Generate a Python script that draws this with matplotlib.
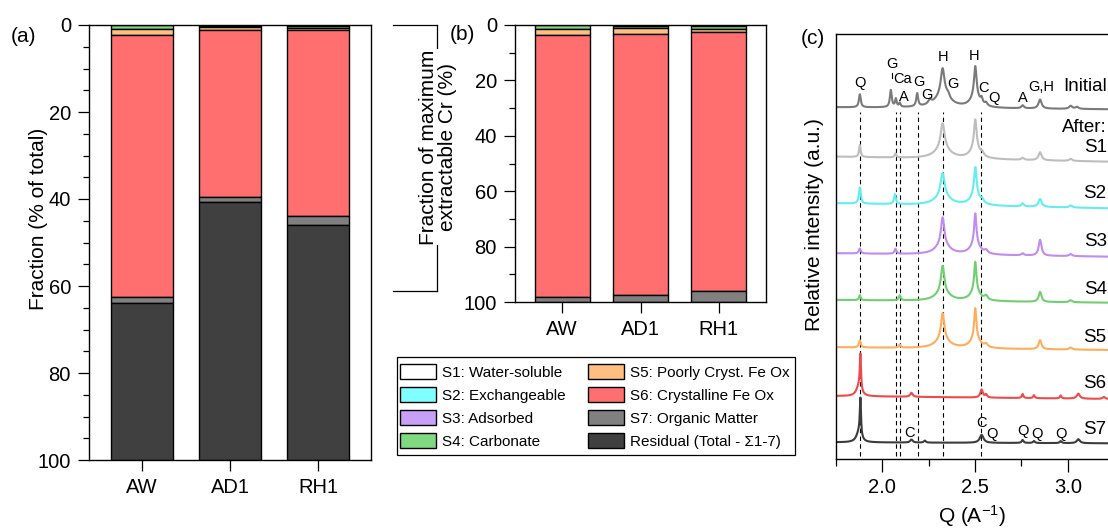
import numpy as np
import matplotlib
matplotlib.use("Agg")
import matplotlib.pyplot as plt
from matplotlib.patches import Patch, Rectangle
from matplotlib.lines import Line2D
from matplotlib.ticker import MultipleLocator, FixedLocator

plt.rcParams['font.family'] = ['Liberation Sans', 'DejaVu Sans']
plt.rcParams['mathtext.default'] = 'regular'

W, H = 1108, 529

# ---------------------------------------------------------------- data
samples = ["AW", "AD1", "RH1"]

fraction_labels = ["S1: Water-soluble", "S2: Exchangeable", "S3: Adsorbed",
                   "S4: Carbonate", "S5: Poorly Cryst. Fe Ox",
                   "S6: Crystalline Fe Ox", "S7: Organic Matter",
                   "Residual (Total - \u03a31-7)"]
fraction_colors = ["#ffffff", "#80ffff", "#c8a0f8", "#80d880",
                   "#ffbf80", "#ff6f6f", "#808080", "#404040"]

# (a) fraction of total Cr (%), listed per extraction step for AW, AD1, RH1
total_s1 = [0.00, 0.05, 0.05]
total_s2 = [0.00, 0.05, 0.05]
total_s3 = [0.10, 0.05, 0.10]
total_s4 = [0.80, 0.35, 0.40]
total_s5 = [1.50, 0.70, 0.60]
total_s6 = [60.2, 38.4, 42.6]
total_s7 = [1.30, 1.20, 2.10]
total_res = [36.1, 59.2, 54.1]

# (b) fraction of the maximum extractable Cr (%)
extr_s1 = [0.00, 0.10, 0.10]
extr_s2 = [0.00, 0.10, 0.10]
extr_s3 = [0.15, 0.10, 0.20]
extr_s4 = [1.20, 0.80, 0.90]
extr_s5 = [2.20, 2.00, 1.40]
extr_s6 = [94.75, 94.30, 93.30]
extr_s7 = [1.70, 2.60, 4.00]

# (c) diffraction patterns: (position Q, height, half width) of each reflection,
# with the baseline level at the left and right end of the Q range
pattern_names = ["Initial", "S1", "S2", "S3", "S4", "S5", "S6", "S7"]
pattern_colors = ["#7a7a7a", "#bdbdbd", "#62eef0", "#c08cf0",
                  "#70cf70", "#ffad5c", "#ee4a4a", "#3c3c3c"]
baseline_left = [351.7, 302.3, 255.7, 205.7, 159.0, 111.7, 63.0, 16.7]
baseline_right = [349.7, 297.3, 250.7, 202.3, 156.3, 109.0, 60.0, 15.7]

peaks_initial = [(1.880, 13, 0.006), (2.047, 17, 0.006), (2.074, 8, 0.005),
                 (2.095, 4, 0.005), (2.189, 13, 0.006), (2.257, 4, 0.010),
                 (2.326, 27, 0.012), (2.326, 12, 0.050), (2.355, 4, 0.010),
                 (2.502, 30, 0.008), (2.502, 11, 0.030), (2.536, 5, 0.006),
                 (2.560, 3, 0.008), (2.757, 3, 0.008), (2.851, 9, 0.010),
                 (3.016, 3, 0.010), (3.050, 2, 0.010)]
peaks_s1 = [(1.880, 12, 0.005), (2.072, 4, 0.005),
            (2.326, 24, 0.012), (2.326, 11, 0.045),
            (2.502, 28, 0.008), (2.502, 11, 0.030),
            (2.540, 3, 0.008), (2.757, 2, 0.008), (2.851, 8, 0.010),
            (3.016, 2, 0.010)]
peaks_s2 = [(1.880, 16, 0.006), (2.069, 10, 0.006),
            (2.326, 22, 0.012), (2.326, 10, 0.045),
            (2.502, 28, 0.008), (2.502, 10, 0.030),
            (2.540, 3, 0.008), (2.757, 3, 0.008), (2.851, 8, 0.010),
            (3.016, 2, 0.010)]
peaks_s3 = [(1.880, 5, 0.006), (2.072, 5, 0.006),
            (2.326, 26, 0.010), (2.326, 11, 0.040),
            (2.502, 30, 0.007), (2.502, 11, 0.030),
            (2.560, 3, 0.010), (2.757, 2, 0.008), (2.851, 16, 0.009),
            (3.016, 2, 0.010)]
peaks_s4 = [(1.880, 5, 0.005), (2.095, 5, 0.006),
            (2.326, 25, 0.010), (2.326, 10, 0.040),
            (2.502, 29, 0.007), (2.502, 10, 0.030),
            (2.560, 4, 0.010), (2.851, 10, 0.009), (3.016, 2, 0.010)]
peaks_s5 = [(1.880, 7, 0.006), (2.095, 3, 0.006),
            (2.326, 25, 0.010), (2.326, 10, 0.040),
            (2.502, 30, 0.007), (2.502, 10, 0.030),
            (2.560, 3, 0.010), (2.851, 9, 0.009), (3.016, 2, 0.010)]
peaks_s6 = [(1.883, 36, 0.004), (1.874, 9, 0.016), (2.158, 4, 0.008),
            (2.536, 8, 0.008), (2.560, 3, 0.006), (2.757, 4, 0.005),
            (2.818, 3, 0.005), (2.962, 3, 0.005), (3.057, 5, 0.010),
            (3.195, 2, 0.008)]
peaks_s7 = [(1.883, 38, 0.004), (1.874, 9, 0.016), (2.158, 3, 0.008),
            (2.230, 2, 0.006), (2.536, 8, 0.012), (2.757, 3, 0.006),
            (2.818, 2, 0.006), (2.962, 2, 0.006), (3.057, 4, 0.010)]
pattern_peaks = [peaks_initial, peaks_s1, peaks_s2, peaks_s3,
                 peaks_s4, peaks_s5, peaks_s6, peaks_s7]

reference_lines = [1.881, 2.074, 2.095, 2.191, 2.326, 2.534]

initial_labels = [("Q", 1.880, 375.7), ("G", 2.052, 394.7), ("Ca", 2.108, 380.0),
                  ("A", 2.117, 362.3), ("G", 2.200, 376.7), ("G", 2.243, 364.0),
                  ("H", 2.326, 402.3), ("G", 2.383, 374.7), ("H", 2.495, 403.3),
                  ("C", 2.545, 370.7), ("Q", 2.604, 360.7), ("A", 2.757, 360.7),
                  ("G,H", 2.856, 372.3)]
s7_labels = [("C", 2.149, 26.3), ("C", 2.536, 36.3), ("Q", 2.593, 24.7),
             ("Q", 2.761, 28.3), ("Q", 2.836, 24.7), ("Q", 2.964, 24.7)]
trace_name_y = [372.3, 311.0, 266.0, 218.0, 169.0, 122.0, 76.0, 29.0]


def px_box(left, top, right, bottom):
    return [left / W, 1 - bottom / H, (right - left) / W, (bottom - top) / H]


fig = plt.figure(figsize=(W / 100, H / 100), dpi=100)
fig.patch.set_facecolor("white")

TICK_FS = 14.5
x_pos = np.arange(len(samples))


def stacked(ax, layers):
    bottom = np.zeros(len(samples))
    for vals, col in zip(layers, fraction_colors):
        vals = np.asarray(vals, dtype=float)
        ax.bar(x_pos, vals, width=0.7, bottom=bottom, color=col,
               edgecolor="black", linewidth=1.0, zorder=2)
        bottom += vals
    ax.set_xlim(-0.6, 2.6)
    ax.set_ylim(100, 0)
    ax.set_xticks(x_pos)
    ax.set_xticklabels(samples)
    ax.yaxis.set_major_locator(MultipleLocator(20))
    ax.tick_params(axis="both", which="major", direction="out", length=8,
                   width=0.9, labelsize=TICK_FS, pad=5)
    ax.tick_params(axis="y", which="minor", direction="out", length=4, width=0.9)
    ax.tick_params(axis="x", which="minor", bottom=False)
    for sp in ax.spines.values():
        sp.set_linewidth(1.0)


# ---------------------------------------------------------------- panel (a)
ax_a = fig.add_axes(px_box(89, 25, 371, 460))
stacked(ax_a, [total_s1, total_s2, total_s3, total_s4, total_s5, total_s6,
               total_s7, total_res])
ax_a.yaxis.set_minor_locator(MultipleLocator(5))
fig.text(38.5 / W, 1 - 219 / H, "Fraction (% of total)", rotation=90,
         ha="center", va="center", fontsize=15)
fig.text(24 / W, 1 - 36 / H, "(a)", ha="center", va="center", fontsize=15)

# ---------------------------------------------------------------- panel (b)
ax_b = fig.add_axes(px_box(515, 25, 766, 302))
stacked(ax_b, [extr_s1, extr_s2, extr_s3, extr_s4, extr_s5, extr_s6, extr_s7])
ax_b.yaxis.set_minor_locator(MultipleLocator(10))
fig.text(462 / W, 1 - 35 / H, "(b)", ha="center", va="center", fontsize=15)

# bracket framing the panel (b) axis title
for xs, ys in [((393, 437), (25, 25)), ((437, 437), (25, 291)),
               ((393, 437), (291, 291))]:
    fig.add_artist(Line2D([x / W for x in xs], [1 - y / H for y in ys],
                          color="black", lw=0.9, zorder=1))
fig.text(438 / W, 1 - 147 / H, "Fraction of maximum\nextractable Cr (%)",
         rotation=90, ha="center", va="center", fontsize=15,
         linespacing=1.05, zorder=3,
         bbox=dict(facecolor="white", edgecolor="none", pad=0))

# legend with its own frame
fig.add_artist(Rectangle((397 / W, 1 - 455 / H), 398 / W, 98 / H,
                         transform=fig.transFigure, facecolor="white",
                         edgecolor="black", lw=0.9, zorder=0))
handles = [Patch(facecolor=c, edgecolor="black", linewidth=1.0)
           for c in fraction_colors]
fig.legend(handles, fraction_labels, ncol=2, loc="upper left",
           bbox_to_anchor=(400 / W, 1 - 364 / H), borderaxespad=0,
           borderpad=0, fontsize=11, handlelength=2.36, handleheight=1.1,
           handletextpad=0.4, labelspacing=0.5, columnspacing=1.45,
           frameon=False)

# ---------------------------------------------------------------- panel (c)
ax_c = fig.add_axes(px_box(835.7, 34, W, 459))
q = np.linspace(1.75, 3.22, 2500)
for peaks, b0, b1, col in zip(pattern_peaks, baseline_left, baseline_right,
                              pattern_colors):
    y = np.linspace(b0, b1, q.size)
    for pos, hgt, hw in peaks:
        y = y + hgt * hw ** 2 / ((q - pos) ** 2 + hw ** 2)
    ax_c.plot(q, y, color=col, lw=1.5, zorder=2)

ax_c.vlines(reference_lines, 3, 347, colors="black", linestyles=(0, (4, 3)),
            lw=0.8, zorder=1)

for txt, xq, yv in initial_labels + s7_labels:
    ax_c.text(xq, yv, txt, ha="center", va="center", fontsize=10.5)
ax_c.add_line(Line2D([2.052, 2.052], [381, 386], color="black", lw=0.8))

for name, yv in zip(pattern_names, trace_name_y):
    ax_c.text(3.21, yv, name, ha="right", va="center", fontsize=13.5)
ax_c.text(3.21, 332, "After:", ha="right", va="center", fontsize=13.5)

ax_c.set_xlim(1.75, 3.217)
ax_c.set_ylim(0, 425)
ax_c.set_yticks([])
ax_c.xaxis.set_major_locator(FixedLocator([2.0, 2.5, 3.0]))
ax_c.xaxis.set_minor_locator(FixedLocator([1.75, 2.25, 2.75, 3.25]))
ax_c.set_xticklabels(["2.0", "2.5", "3.0"])
ax_c.tick_params(axis="x", which="major", direction="out", length=9,
                 width=0.9, labelsize=TICK_FS, pad=5)
ax_c.tick_params(axis="x", which="minor", direction="out", length=5, width=0.9)
ax_c.spines["right"].set_visible(False)
for sp in ax_c.spines.values():
    sp.set_linewidth(1.0)
ax_c.set_xlabel("Q (A$^{-1}$)", fontsize=15, labelpad=4)
fig.text(814 / W, 1 - 225 / H, "Relative intensity (a.u.)", rotation=90,
         ha="center", va="center", fontsize=15)
fig.text(813 / W, 1 - 38 / H, "(c)", ha="center", va="center", fontsize=15)

fig.savefig("out.png", dpi=100)
